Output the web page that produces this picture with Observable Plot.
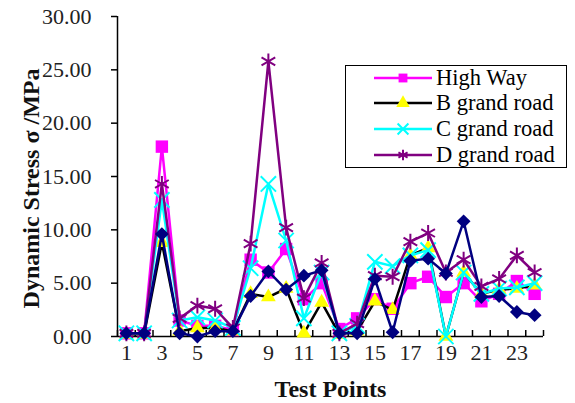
<!DOCTYPE html>
<html>
<head>
<meta charset="utf-8">
<script src="https://cdn.jsdelivr.net/npm/d3@7"></script>
<script src="https://cdn.jsdelivr.net/npm/@observablehq/plot@0.6"></script>
<style>
  body { margin: 0; background: white; }
  #wrap { position: relative; width: 575px; height: 403px; }
  #wrap svg, #wrap svg text { font-family: "Times New Roman", "Liberation Serif", "DejaVu Serif", serif !important; }
  #legend { position: absolute; left: 345px; top: 65px; width: 222px; height: 103px; border: 1.5px solid #000; background: white; box-sizing: border-box; font-family: "Times New Roman", "Liberation Serif", serif; font-size: 22.5px; color: #000; }
  .row { position: absolute; left: 0; height: 24px; display: flex; align-items: center; white-space: nowrap; }
  .row svg { margin-left: 28px; margin-right: 4px; }
</style>
</head>
<body>
<div id="wrap"></div>
<script>
const testPoints = [1,2,3,4,5,6,7,8,9,10,11,12,13,14,15,16,17,18,19,20,21,22,23,24];
const xTickLabels = [1,3,5,7,9,11,13,15,17,19,21,23];
const yTicks = [0,5,10,15,20,25,30];

const seriesNames = ["High Way", "B grand road", "C grand road", "D grand road", "Series 5"];
const highWay = [0.3,0.3,17.8,1.5,1.0,1.0,0.6,7.2,6.0,8.2,3.5,5.0,0.7,1.7,3.5,2.6,5.0,5.6,3.7,5.0,3.3,4.0,5.2,4.0];
const bRoad   = [0.2,0.2,8.8,0.5,0.8,0.8,0.5,4.0,3.7,4.5,0.3,3.2,0.2,0.5,3.3,2.5,7.6,8.3,0.0,6.0,4.0,4.4,4.5,4.8];
const cRoad   = [0.3,0.3,12.8,1.5,1.8,1.5,0.8,6.4,14.3,9.0,1.7,6.0,0.3,1.0,7.0,6.6,7.6,8.1,0.0,6.0,4.0,4.5,4.6,5.0];
const dRoad   = [0.3,0.3,14.3,1.7,2.9,2.6,0.8,8.7,25.8,10.2,3.6,6.9,0.3,1.2,5.7,5.6,8.9,9.7,6.0,7.2,4.7,5.4,7.6,6.0];
const eRoad   = [0.3,0.3,9.6,0.3,0.0,0.5,0.5,3.8,6.1,4.4,5.7,6.2,0.3,0.3,5.4,0.4,7.1,7.3,5.9,10.8,3.7,3.8,2.3,2.0];

const diamondSym = { draw(ctx, size) { const h = Math.sqrt(size) * 0.6; ctx.moveTo(0, -h); ctx.lineTo(h, 0); ctx.lineTo(0, h); ctx.lineTo(-h, 0); ctx.closePath(); } };

const styles = [
  { values: highWay, line: "#FF00FF", fill: "#FF00FF", stroke: "none", symbol: "square", r: 7, sw: 1 },
  { values: bRoad,   line: "#000000", fill: "#FFFF00", stroke: "none", symbol: "triangle", r: 5.5, sw: 1 },
  { values: cRoad,   line: "#00FFFF", fill: "none", stroke: "#00FFFF", symbol: "times", r: 7, sw: 2 },
  { values: dRoad,   line: "#800080", fill: "none", stroke: "#800080", symbol: "asterisk", r: 7.5, sw: 2 },
  { values: eRoad,   line: "#000080", fill: "#000080", stroke: "none", symbol: diamondSym, r: 6.5, sw: 1 }
];

const marks = [];
styles.forEach((s, k) => {
  const data = testPoints.map((t, i) => ({ t, v: s.values[i], name: seriesNames[k] }));
  marks.push(Plot.line(data, { x: "t", y: "v", stroke: s.line, strokeWidth: 2.5 }));
  marks.push(Plot.dot(data, { x: "t", y: "v", symbol: () => s.symbol, fill: s.fill, stroke: s.stroke, strokeWidth: s.sw, r: s.r }));
});

const bounds = d3.range(0, testPoints.length + 1).map(i => i + 0.5);

const chart = Plot.plot({
  width: 575,
  height: 403,
  marginLeft: 117,
  marginRight: 32,
  marginTop: 16,
  marginBottom: 67,
  style: { fontSize: "22px", background: "white", overflow: "visible" },
  x: { type: "linear", domain: [0.5, 24.5] },
  y: { domain: [0, 30] },
  symbol: { type: "identity" },
  marks: [
    Plot.axisY({ ticks: yTicks, tickFormat: d3.format(".2f"), tickSize: 6, tickPadding: 20, label: null, strokeWidth: 1.5, fill: "#222" }),
    Plot.axisX({ ticks: bounds, tickSize: 6, dy: -6, tickFormat: () => "", label: null, strokeWidth: 1.5 }),
    Plot.axisX({ ticks: xTickLabels, tickSize: 0, tickPadding: 8, tickFormat: d => String(d), label: null, fill: "#222" }),
    Plot.ruleX([0.5], { stroke: "#000", strokeWidth: 1.5 }),
    Plot.ruleY([0], { stroke: "#000", strokeWidth: 1.5 }),
    Plot.text(["Dynamic Stress σ /MPa"], { frameAnchor: "left", textAnchor: "middle", dx: -86, dy: 12, rotate: -90, fontWeight: "bold", fontSize: 24, fill: "#111" }),
    Plot.text(["Test Points"], { frameAnchor: "bottom", dy: 60, fontWeight: "bold", fontSize: 24, fill: "#111" }),
    ...marks
  ]
});

const wrap = document.getElementById("wrap");
wrap.appendChild(chart);

// Legend (four named series)
const legend = document.createElement("div");
legend.id = "legend";
const rowTops = [0, 25, 51, 77];
[0, 1, 2, 3].forEach((k, j) => {
  const s = styles[k];
  const row = document.createElement("div");
  row.className = "row";
  row.style.top = (rowTops[j]) + "px";
  const sw = d3.create("svg").attr("width", 58).attr("height", 20);
  sw.append("line").attr("x1", 0).attr("x2", 58).attr("y1", 10).attr("y2", 10).attr("stroke", s.line).attr("stroke-width", 2.5);
  const symType = typeof s.symbol === "string" ? { square: d3.symbolSquare, triangle: d3.symbolTriangle, times: d3.symbolTimes, asterisk: d3.symbolAsterisk }[s.symbol] : s.symbol;
  const size = Math.PI * 25;
  sw.append("path").attr("transform", "translate(29,10)").attr("d", d3.symbol(symType, size)())
    .attr("fill", s.fill).attr("stroke", s.stroke).attr("stroke-width", s.sw);
  row.appendChild(sw.node());
  const lab = document.createElement("span");
  lab.textContent = seriesNames[k];
  row.appendChild(lab);
  legend.appendChild(row);
});
wrap.appendChild(legend);
</script>
</body>
</html>
